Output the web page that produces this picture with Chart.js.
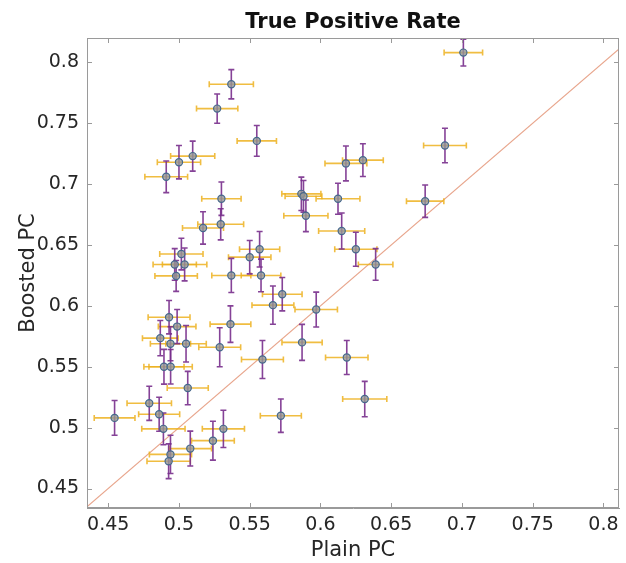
<!DOCTYPE html>
<html>
<head>
<meta charset="utf-8">
<title>True Positive Rate</title>
<script src="https://cdn.jsdelivr.net/npm/chart.js@4.4.1/dist/chart.umd.min.js"></script>
<style>
  html, body { margin: 0; padding: 0; background: #fff; }
  #chart { display: block; }
</style>
</head>
<body>
<canvas id="chart" width="626" height="563"></canvas>
<script>
// Valores (Plain PC x Boosted PC)
const plainPC = [
  0.537, 0.527, 0.555, 0.5097, 0.500, 0.491, 0.530, 0.5295, 0.517, 0.5017,
  0.497, 0.504, 0.557, 0.550, 0.5865, 0.588, 0.5897, 0.618, 0.6124, 0.615,
  0.625, 0.701, 0.688, 0.630, 0.674, 0.639, 0.498, 0.537, 0.558, 0.573,
  0.5664, 0.597, 0.493, 0.4987, 0.4868, 0.494, 0.505, 0.5364, 0.5288, 0.4894,
  0.4941, 0.5062, 0.559, 0.587, 0.6186, 0.4545, 0.479, 0.486, 0.489, 0.5314,
  0.524, 0.508, 0.494, 0.4927, 0.572, 0.6313
];
const boostedPC = [
  0.782, 0.762, 0.7355, 0.723, 0.718, 0.706, 0.688, 0.667, 0.664, 0.6426,
  0.634, 0.634, 0.6465, 0.640, 0.692, 0.690, 0.674, 0.717, 0.688, 0.6615,
  0.6465, 0.808, 0.7317, 0.7197, 0.686, 0.634, 0.6246, 0.625, 0.625, 0.6096,
  0.6006, 0.597, 0.5907, 0.583, 0.5735, 0.5689, 0.5689, 0.585, 0.566, 0.550,
  0.550, 0.5325, 0.556, 0.570, 0.5576, 0.508, 0.520, 0.511, 0.499, 0.499,
  0.4893, 0.4828, 0.478, 0.4724, 0.5098, 0.5235
];
// Meia largura das barras de erro
const plainErr = [
  0.0156, 0.0146, 0.0139, 0.0156, 0.0153, 0.0151, 0.0139, 0.0162, 0.0145, 0.0153,
  0.0153, 0.0157, 0.0142, 0.0150, 0.0138, 0.0130, 0.0156, 0.0148, 0.0155, 0.0163,
  0.0149, 0.0136, 0.0151, 0.0144, 0.0132, 0.0122, 0.0150, 0.0138, 0.0140, 0.0140,
  0.0148, 0.0150, 0.0148, 0.0133, 0.0126, 0.0142, 0.0143, 0.0144, 0.0148, 0.0142,
  0.0153, 0.0145, 0.0148, 0.0142, 0.0150, 0.0144, 0.0157, 0.0145, 0.0153, 0.0149,
  0.0151, 0.0150, 0.0149, 0.0153, 0.0145, 0.0156
];
const boostedErr = [
  0.0120, 0.0120, 0.0126, 0.0123, 0.0137, 0.0130, 0.0137, 0.0128, 0.0133, 0.0130,
  0.0130, 0.0135, 0.0146, 0.0137, 0.0137, 0.0130, 0.0130, 0.0143, 0.0127, 0.0148,
  0.0140, 0.0110, 0.0142, 0.0134, 0.0133, 0.0130, 0.0127, 0.0140, 0.0134, 0.0137,
  0.0157, 0.0143, 0.0137, 0.0140, 0.0145, 0.0140, 0.0150, 0.0150, 0.0160, 0.0143,
  0.0142, 0.0137, 0.0156, 0.0148, 0.0140, 0.0143, 0.0140, 0.0140, 0.0130, 0.0153,
  0.0160, 0.0143, 0.0157, 0.0143, 0.0137, 0.0145
];
const diagLine = [0.43, 0.83];
const xTicks = [0.45, 0.5, 0.55, 0.6, 0.65, 0.7, 0.75, 0.8];
const yTicks = [0.45, 0.5, 0.55, 0.6, 0.65, 0.7, 0.75, 0.8];

const points = plainPC.map((x, i) => ({ x: x, y: boostedPC[i] }));

// Barras de erro (x em laranja, y em roxo), desenhadas depois da diagonal
const errorBars = {
  id: 'errorBars',
  afterDatasetDraw(chart, args) {
    if (args.index !== 1) return;
    const ctx = chart.ctx, xs = chart.scales.x, ys = chart.scales.y, a = chart.chartArea;
    const cap = 3;
    ctx.save();
    ctx.beginPath();
    ctx.rect(a.left, a.top, a.right - a.left, a.bottom - a.top);
    ctx.clip();
    ctx.lineWidth = 1.6;
    ctx.strokeStyle = 'rgba(237,177,32,0.85)';
    points.forEach((p, i) => {
      const x1 = xs.getPixelForValue(p.x - plainErr[i]);
      const x2 = xs.getPixelForValue(p.x + plainErr[i]);
      const y = ys.getPixelForValue(p.y);
      ctx.beginPath();
      ctx.moveTo(x1, y); ctx.lineTo(x2, y);
      ctx.moveTo(x1, y - cap); ctx.lineTo(x1, y + cap);
      ctx.moveTo(x2, y - cap); ctx.lineTo(x2, y + cap);
      ctx.stroke();
    });
    ctx.strokeStyle = 'rgba(120,45,140,0.9)';
    points.forEach((p, i) => {
      const x = xs.getPixelForValue(p.x);
      const y1 = ys.getPixelForValue(p.y - boostedErr[i]);
      const y2 = ys.getPixelForValue(p.y + boostedErr[i]);
      ctx.beginPath();
      ctx.moveTo(x, y1); ctx.lineTo(x, y2);
      ctx.moveTo(x - cap, y1); ctx.lineTo(x + cap, y1);
      ctx.moveTo(x - cap, y2); ctx.lineTo(x + cap, y2);
      ctx.stroke();
    });
    ctx.restore();
  }
};

// Moldura, ticks para dentro e título centrado na área do gráfico
const frameAndTitle = {
  id: 'frameAndTitle',
  afterDraw(chart) {
    const ctx = chart.ctx, xs = chart.scales.x, ys = chart.scales.y, a = chart.chartArea;
    const len = 5;
    ctx.save();
    ctx.strokeStyle = '#9a9a9a';
    ctx.lineWidth = 1;
    ctx.strokeRect(a.left + 0.5, a.top + 0.5, a.right - a.left - 1, a.bottom - a.top - 1);
    ctx.beginPath();
    xTicks.forEach(v => {
      const px = Math.round(xs.getPixelForValue(v)) + 0.5;
      ctx.moveTo(px, a.bottom); ctx.lineTo(px, a.bottom - len);
      ctx.moveTo(px, a.top); ctx.lineTo(px, a.top + len);
    });
    yTicks.forEach(v => {
      const py = Math.round(ys.getPixelForValue(v)) + 0.5;
      ctx.moveTo(a.left, py); ctx.lineTo(a.left + len, py);
      ctx.moveTo(a.right, py); ctx.lineTo(a.right - len, py);
    });
    ctx.stroke();
    ctx.fillStyle = '#111';
    ctx.font = 'bold 21px "DejaVu Sans"';
    ctx.textAlign = 'center';
    ctx.textBaseline = 'alphabetic';
    ctx.fillText('True Positive Rate', (a.left + a.right) / 2, 28);
    ctx.restore();
  }
};

const tickFont = { family: 'DejaVu Sans', size: 19 };
const labelFont = { family: 'DejaVu Sans', size: 21 };

new Chart(document.getElementById('chart'), {
  type: 'scatter',
  data: {
    datasets: [
      {
        label: 'Boosted vs Plain',
        data: points,
        order: 0,
        pointRadius: 3.6,
        pointBorderWidth: 1.2,
        backgroundColor: 'rgba(150,152,150,0.8)',
        borderColor: '#46688c'
      },
      {
        type: 'line',
        label: 'y = x',
        data: diagLine.map(v => ({ x: v, y: v })),
        order: 1,
        borderColor: '#e8a58c',
        borderWidth: 1.2,
        pointRadius: 0,
        fill: false
      }
    ]
  },
  options: {
    responsive: false,
    animation: false,
    devicePixelRatio: 1,
    layout: { padding: { top: 38, right: 7, left: 0, bottom: 0 } },
    plugins: {
      legend: { display: false },
      tooltip: { enabled: false },
      title: { display: false }
    },
    scales: {
      x: {
        type: 'linear',
        min: 0.435,
        max: 0.811,
        afterFit: s => { s.height = 55; },
        afterBuildTicks: s => { s.ticks = xTicks.map(v => ({ value: v })); },
        grid: { display: true, drawOnChartArea: false, drawTicks: false },
        border: { display: true, color: '#9a9a9a' },
        ticks: {
          padding: 6,
          color: '#262626',
          font: tickFont,
          maxRotation: 0,
          callback: v => String(+v.toFixed(2))
        },
        title: { display: true, text: 'Plain PC', color: '#262626', font: labelFont, padding: { top: 0, bottom: 0 } }
      },
      y: {
        type: 'linear',
        min: 0.434,
        max: 0.82,
        afterFit: s => { s.width = 87; },
        afterBuildTicks: s => { s.ticks = yTicks.map(v => ({ value: v })); },
        grid: { display: true, drawOnChartArea: false, drawTicks: false },
        border: { display: true, color: '#9a9a9a' },
        ticks: {
          padding: 8,
          color: '#262626',
          font: tickFont,
          callback: v => String(+v.toFixed(2))
        },
        title: { display: true, text: 'Boosted PC', color: '#262626', font: labelFont, padding: { top: 16, bottom: 0 } }
      }
    }
  },
  plugins: [errorBars, frameAndTitle]
});
</script>
</body>
</html>
